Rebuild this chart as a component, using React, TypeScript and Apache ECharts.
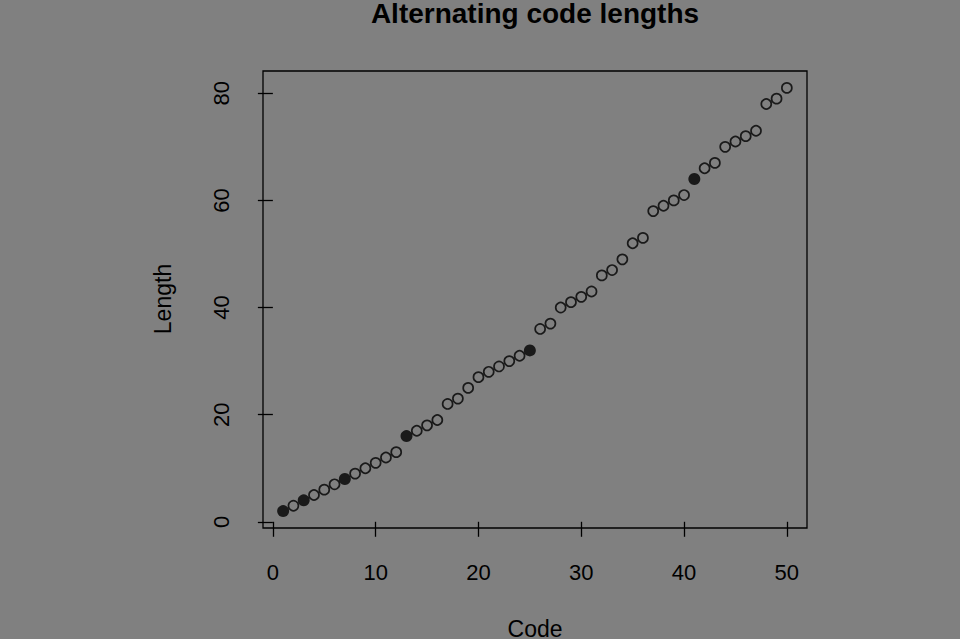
import React, { useEffect, useRef } from "react";
import * as echarts from "echarts";

const codes = [
  1, 2, 3, 4, 5, 6, 7, 8, 9, 10,
  11, 12, 13, 14, 15, 16, 17, 18, 19, 20,
  21, 22, 23, 24, 25, 26, 27, 28, 29, 30,
  31, 32, 33, 34, 35, 36, 37, 38, 39, 40,
  41, 42, 43, 44, 45, 46, 47, 48, 49, 50,
];
const lengths = [
  2, 3, 4, 5, 6, 7, 8, 9, 10, 11,
  12, 13, 16, 17, 18, 19, 22, 23, 25, 27,
  28, 29, 30, 31, 32, 36, 37, 40, 41, 42,
  43, 46, 47, 49, 52, 53, 58, 59, 60, 61,
  64, 66, 67, 70, 71, 72, 73, 78, 79, 81,
];
const filledCodes = [1, 3, 7, 13, 25, 41];
const xTicks = [0, 10, 20, 30, 40, 50];
const yTicks = [0, 20, 40, 60, 80];

const titleText = "Alternating code lengths";
const xName = "Code";
const yName = "Length";

export default function App() {
  const ref = useRef<HTMLDivElement>(null);

  useEffect(() => {
    document.body.style.margin = "0";
    document.body.style.background = "#808080";
    if (!ref.current) return;
    const chart = echarts.init(ref.current, null, { renderer: "svg" });

    const filledData: number[][] = [];
    const openData: number[][] = [];
    codes.forEach((c, i) => {
      if (filledCodes.includes(c)) filledData.push([c, lengths[i]]);
      else openData.push([c, lengths[i]]);
    });

    const font = "'Liberation Sans', Arial, Helvetica, sans-serif";

    chart.setOption({
      animation: false,
      backgroundColor: "#808080",
      grid: {
        left: 263,
        top: 71,
        width: 544,
        height: 457,
        show: true,
        borderColor: "#000",
        borderWidth: 1.3,
        backgroundColor: "transparent",
      },
      xAxis: {
        type: "value",
        min: -0.96,
        max: 51.96,
        axisLine: { show: false },
        splitLine: { show: false },
        axisTick: {
          show: true,
          length: 15,
          inside: false,
          customValues: xTicks,
          lineStyle: { color: "#000", width: 1.3 },
        },
        axisLabel: {
          customValues: xTicks,
          color: "#000",
          fontSize: 22,
          fontFamily: font,
          margin: 33,
        },
      },
      yAxis: {
        type: "value",
        min: -1.16,
        max: 84.16,
        axisLine: { show: false },
        splitLine: { show: false },
        axisTick: {
          show: true,
          length: 15,
          inside: false,
          customValues: yTicks,
          lineStyle: { color: "#000", width: 1.3 },
        },
        axisLabel: {
          customValues: yTicks,
          color: "#000",
          fontSize: 22,
          fontFamily: font,
          rotate: 90,
          margin: 31,
        },
      },
      graphic: [
        {
          type: "text",
          x: 535,
          y: 13,
          style: {
            text: titleText,
            fill: "#000",
            font: `bold 28px ${font}`,
            align: "center",
            verticalAlign: "middle",
          },
        },
        {
          type: "text",
          x: 535,
          y: 629,
          style: {
            text: xName,
            fill: "#000",
            font: `23px ${font}`,
            align: "center",
            verticalAlign: "middle",
          },
        },
        {
          type: "text",
          x: 163,
          y: 299,
          rotation: Math.PI / 2,
          style: {
            text: yName,
            fill: "#000",
            font: `23px ${font}`,
            align: "center",
            verticalAlign: "middle",
          },
        },
      ],
      series: [
        {
          type: "scatter",
          data: openData,
          symbol: "circle",
          symbolSize: 10,
          itemStyle: { color: "transparent", borderColor: "#000", borderWidth: 1.7 },
        },
        {
          type: "scatter",
          data: filledData,
          symbol: "circle",
          symbolSize: 12,
          itemStyle: { color: "#000", borderColor: "#000", borderWidth: 0 },
        },
      ],
    });

    return () => chart.dispose();
  }, []);

  return <div ref={ref} style={{ width: 960, height: 639 }} />;
}
